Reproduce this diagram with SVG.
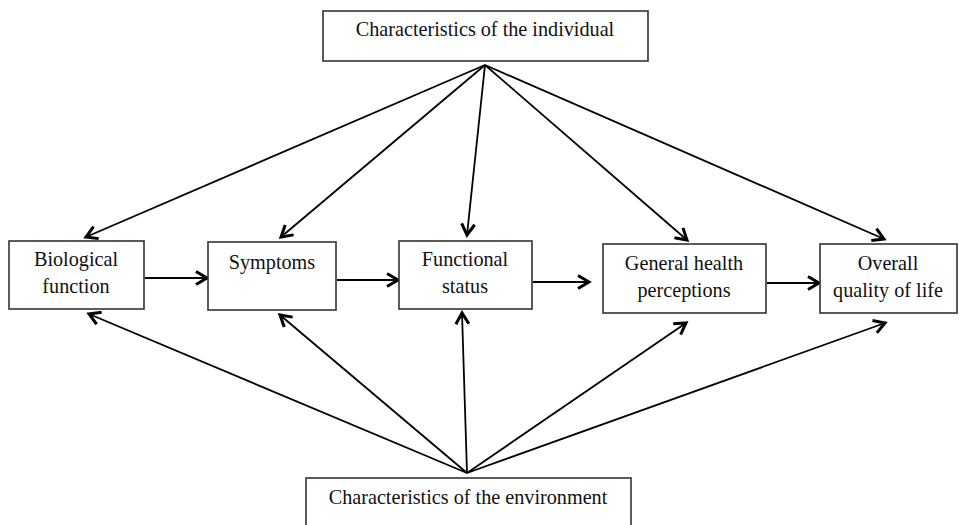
<svg xmlns="http://www.w3.org/2000/svg" width="959" height="525" viewBox="0 0 959 525">
<defs>
<marker id="arr" markerUnits="userSpaceOnUse" markerWidth="16" markerHeight="16" viewBox="-12 -8 14 16" refX="0" refY="0" orient="auto">
<path d="M-11,-6.5 L0,0 L-11,6.5" fill="none" stroke="#000" stroke-width="3" stroke-linejoin="miter" stroke-linecap="butt"/>
</marker>
<style>
.box{fill:#fff;stroke:#333;stroke-width:1.6}
.t{font-family:"Liberation Serif","Times New Roman",serif;font-size:20.2px;fill:#111;text-anchor:middle}
.c{stroke:#000;stroke-width:1.8;fill:none;marker-end:url(#arr)}
</style>
</defs>
<rect width="959" height="525" fill="#fff"/>
<g id="connectors">
<line class="c" x1="485" y1="65" x2="86" y2="237"/>
<line class="c" x1="485" y1="65" x2="281" y2="237"/>
<line class="c" x1="485" y1="65" x2="467" y2="235"/>
<line class="c" x1="485" y1="65" x2="687" y2="240"/>
<line class="c" x1="485" y1="65" x2="884" y2="239"/>
<line class="c" x1="467" y1="473" x2="89" y2="314"/>
<line class="c" x1="467" y1="473" x2="280" y2="315"/>
<line class="c" x1="467" y1="473" x2="462" y2="313"/>
<line class="c" x1="467" y1="473" x2="686" y2="323"/>
<line class="c" x1="467" y1="473" x2="885" y2="323"/>
<line class="c" x1="145" y1="278" x2="207" y2="278"/>
<line class="c" x1="337" y1="280" x2="398" y2="280"/>
<line class="c" x1="533" y1="282" x2="589" y2="282"/>
<line class="c" x1="767" y1="283" x2="819" y2="283"/>
</g>
<g id="individual">
<rect class="box" x="323" y="11" width="325" height="50"/>
<text class="t" x="485" y="36">Characteristics of the individual</text>
</g>
<g id="biological">
<rect class="box" x="9" y="241" width="135" height="68"/>
<text class="t" x="76" y="266">Biological</text>
<text class="t" x="76" y="293">function</text>
</g>
<g id="symptoms">
<rect class="box" x="208" y="242" width="128" height="68"/>
<text class="t" x="272" y="269">Symptoms</text>
</g>
<g id="functional">
<rect class="box" x="399" y="241" width="133" height="68"/>
<text class="t" x="465" y="266">Functional</text>
<text class="t" x="465" y="293">status</text>
</g>
<g id="general">
<rect class="box" x="603" y="244" width="163" height="69"/>
<text class="t" x="684" y="270">General health</text>
<text class="t" x="684" y="297">perceptions</text>
</g>
<g id="overall">
<rect class="box" x="820" y="244" width="137" height="69"/>
<text class="t" x="888" y="270">Overall</text>
<text class="t" x="888" y="297">quality of life</text>
</g>
<g id="environment">
<rect class="box" x="306" y="478" width="325" height="60"/>
<text class="t" x="468" y="504">Characteristics of the environment</text>
</g>
</svg>
